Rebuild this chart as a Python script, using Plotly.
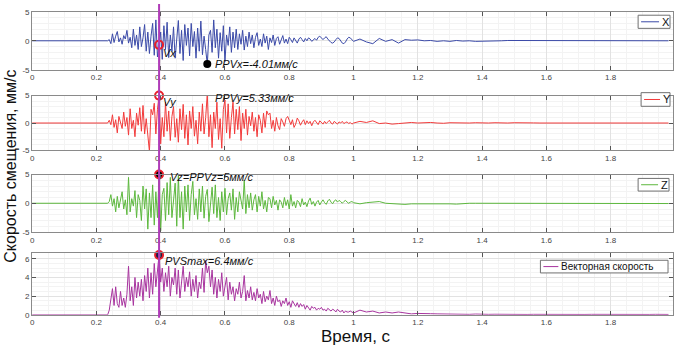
import numpy as np
import plotly.graph_objects as go

# ---------------- data ----------------
T_START = 0.24      # first sample of the active part, s
T_STEP = 0.005      # sampling step of the active part, s
TAIL_START = 1.02
TAIL_STEP = 0.02

vx = [0.2,-0.5,1.2,-0.3,0.8,1.6,-0.2,0.5,-0.6,0.9,
      0.3,1.8,-0.4,0.6,-1.2,2.0,-0.8,1.0,-1.5,2.4,
      -1.0,0.5,2.8,-1.8,1.5,-2.2,0.8,3.0,-2.5,3.6,
      -2.8,-0.7,1.5,-3.2,2.6,-1.5,3.2,-2.9,1.0,-1.8,
      2.4,-3.0,0.6,3.5,-2.2,1.8,-3.4,2.8,-0.8,2.2,
      -2.6,3.0,-1.0,1.6,-3.0,2.2,-1.8,3.4,-2.4,0.8,
      -1.5,-4.01,1.0,1.8,-2.0,3.6,-1.2,2.0,-3.0,1.4,
      -1.8,2.6,-3.6,1.0,-0.8,2.4,-2.0,1.5,-1.2,2.0,
      -1.5,1.2,-0.6,1.8,-1.6,0.8,-1.0,1.5,-0.5,1.0,
      -1.2,0.6,1.4,-0.8,0.3,-1.0,1.2,-0.4,0.8,-1.5,
      0.5,-0.3,1.0,-0.8,0.4,0.7,-0.6,0.2,0.9,-0.4,
      0.3,-0.5,0.6,0.2,-0.3,0.5,0.1,-0.4,0.3,0.6,
      0.2,-0.2,0.4,0.0,0.5,0.3,-0.1,0.2,0.4,0.1,
      0.6,0.8,0.4,0.2,0.5,0.7,0.3,0.0,-0.3,-0.4,
      -0.2,0.2,0.5,0.4,0.0,-0.4,-0.5,-0.2,0.3,0.6,
      0.5,0.2,-0.1]
vx_tail = [0.3,-0.2,-0.5,0.4,-0.1,0.2,-0.4,0.2,0.1,0.15,
           0.0,0.05,-0.1,0.0,-0.1,0.05,-0.05,0.0,-0.1,-0.1,
           0.0,-0.05,0.0,0.05,0.05,0.05,0.0,0.02,0.0,-0.02,
           0.0,0.02,0.0,0.0,-0.02,0.0,0.0,-0.02,-0.02,0.0,
           0.0,0.0,0.0,0.0,0.0,0.0,0.0,0.0,0.0]

vy = [0.5,-0.3,1.5,-0.8,0.6,-1.8,1.2,0.3,-1.0,2.0,
      -0.6,1.0,-2.2,2.6,-1.0,0.5,-2.5,1.8,-0.4,2.8,
      -1.5,3.2,-2.0,0.8,-3.0,-5.2,2.5,1.5,3.6,-2.0,
      2.5,5.0,-3.8,1.0,-2.5,3.8,-1.5,2.2,-3.2,1.2,
      3.0,-2.6,0.8,-3.5,2.6,-1.2,3.4,-2.8,1.5,-4.0,
      2.2,-1.0,3.0,-2.4,0.5,-3.8,2.0,-1.5,3.5,-2.0,
      1.0,5.33,-2.5,1.5,-4.5,2.0,-1.0,3.8,-3.0,0.8,
      -4.6,2.5,4.2,-1.8,3.5,-2.8,1.0,3.8,-2.0,2.5,
      -1.2,3.0,-3.2,1.8,-1.0,2.5,-2.2,1.2,-0.5,2.0,
      -1.5,1.0,-2.5,1.5,0.5,-1.8,1.8,-0.8,2.2,1.5,
      1.8,-1.0,0.5,-1.5,1.0,-0.5,-1.2,0.8,0.2,-0.6,
      0.8,1.2,0.5,-0.3,0.6,-0.8,-0.2,0.9,0.4,-0.4,
      0.2,0.6,-0.3,0.4,-0.1,0.3,-0.5,0.2,0.5,0.0,
      -0.3,0.4,0.1,-0.2,0.3,-0.1,0.2,0.5,0.0,-0.2,
      0.3,0.1,-0.2,0.2,0.0,0.3,-0.1,0.1,0.2,-0.1,
      0.1,-0.2,0.0]
vy_tail = [0.3,0.1,0.4,-0.1,0.0,-0.2,-0.1,0.0,0.1,0.0,
           0.05,0.1,0.0,-0.05,0.05,0.0,0.05,0.0,0.05,0.0,
           0.0,0.05,0.0,0.0,0.05,0.0,0.0,0.02,0.0,0.0,
           0.0,0.02,0.0,0.0,0.0,0.0,0.05,0.0,0.0,0.0,
           0.0,0.0,-0.05,0.0,0.0,0.0,0.0,0.0,0.0]

vz = [0.3,1.5,-0.5,0.8,-1.5,1.2,-0.8,0.5,2.0,-1.0,
      0.6,-2.0,4.5,-1.5,0.8,-0.5,2.2,-2.5,1.5,0.5,
      -3.0,3.0,-1.0,2.5,-4.5,1.8,-2.5,3.2,-3.8,2.0,
      -2.5,5.0,-4.8,1.5,2.6,-3.0,3.6,-2.0,4.5,-2.5,
      1.0,3.5,-4.0,4.8,-2.5,2.0,-4.5,3.0,-1.5,3.2,
      -3.0,1.5,3.8,-2.0,0.8,-2.8,2.5,-1.5,3.0,-2.6,
      1.2,2.4,-3.2,0.5,2.8,-1.8,3.2,-2.5,1.0,-3.0,
      2.0,-1.5,2.6,-2.0,0.8,1.8,-1.2,2.5,-2.8,1.0,
      -1.5,2.0,0.5,-1.0,4.0,-1.8,1.5,-0.8,1.8,-1.2,
      0.6,1.5,-1.5,1.2,-0.5,2.0,-1.0,0.5,-1.5,1.0,
      0.8,-0.8,1.2,-0.3,0.5,-1.2,0.6,0.2,-0.8,1.0,
      -0.4,0.6,-1.0,1.5,-0.5,0.3,-0.8,0.5,0.2,-0.6,
      0.8,-0.3,0.2,-0.6,0.4,0.9,-0.2,0.3,-0.5,0.2,
      0.5,-0.3,0.2,0.6,0.1,-0.2,0.4,0.7,0.2,-0.1,
      0.4,0.6,0.2,0.5,0.3,0.0,0.3,0.5,0.2,0.0,
      0.2,0.3,0.1]
vz_tail = [-0.1,0.1,0.2,0.3,0.0,-0.1,-0.1,-0.2,-0.1,-0.1,
           -0.05,0.0,-0.05,-0.05,-0.1,-0.15,-0.05,0.0,0.0,0.0,
           0.05,0.0,0.0,0.0,-0.05,0.0,0.0,0.0,0.05,0.05,
           0.05,0.05,0.05,0.05,0.05,0.0,0.05,0.05,0.05,0.0,
           0.0,0.05,0.05,0.0,0.0,0.0,0.0,0.0,-0.05]

vs = [0.5,1.5,2.8,1.0,3.0,1.2,0.8,2.5,1.0,1.8,
      0.8,2.2,5.2,1.5,3.0,1.0,4.0,1.8,3.5,2.0,
      3.8,1.5,4.2,2.5,5.0,1.8,4.5,2.2,5.5,3.0,
      4.5,6.4,3.5,5.0,2.5,4.5,3.0,5.2,2.0,4.0,
      3.2,5.0,2.2,4.8,1.8,3.5,5.2,2.5,4.0,3.0,
      4.6,2.0,3.8,2.5,4.2,1.8,3.5,2.8,5.0,2.4,
      5.8,4.5,5.2,3.0,4.8,2.2,4.0,1.8,3.8,2.5,
      4.5,2.0,3.2,4.0,1.6,3.5,2.2,3.0,1.5,2.8,
      2.2,3.5,1.8,2.5,4.2,1.5,2.6,1.8,3.0,1.6,
      2.4,1.5,2.8,1.8,2.2,1.2,2.5,1.4,2.0,1.6,
      2.6,1.2,1.8,1.0,2.0,1.4,1.6,0.9,1.5,1.2,
      1.8,1.0,1.4,0.8,1.5,1.1,0.9,1.3,0.8,1.2,
      0.9,1.1,0.6,1.0,0.8,0.5,0.9,0.7,0.8,0.5,
      0.7,0.6,0.8,0.5,0.6,0.4,0.7,0.5,0.4,0.6,
      0.5,0.3,0.6,0.4,0.3,0.5,0.2,0.4,0.3,0.3,
      0.4,0.3,0.2]
vs_tail = [0.5,0.3,0.4,0.2,0.3,0.2,0.3,0.2,0.1,0.15,
           0.1,0.12,0.1,0.08,0.12,0.1,0.06,0.05,0.08,0.1,
           0.05,0.06,0.04,0.05,0.06,0.05,0.04,0.05,0.04,0.03,
           0.04,0.05,0.03,0.04,0.05,0.04,0.05,0.04,0.03,0.04,
           0.05,0.04,0.05,0.04,0.03,0.04,0.05,0.04,0.04]

series_names = ["X", "Y", "Z", "Векторная скорость"]
series_colors = ["#3b4aa8", "#f23b3b", "#5db83e", "#a8359f"]

# reference points
t_mark = 0.395
vx_mark, vy_mark, vz_mark, vs_mark = -0.7, 5.0, 5.0, 6.4
t_ppvx, ppvx = 0.545, -4.01
t_ppvy, ppvy = 0.545, 5.33

x_ticks = [0, 0.2, 0.4, 0.6, 0.8, 1.0, 1.2, 1.4, 1.6, 1.8]
x_ticklabels = ["0", "0.2", "0.4", "0.6", "0.8", "1", "1.2", "1.4", "1.6", "1.8"]
y_ticks = [-5, 0, 5]
y_ticklabels = ["-5", "0", "5"]
y4_ticks = [0, 2, 4, 6]
y4_ticklabels = ["0", "2", "4", "6"]

# ---------------- build ----------------
def build_t(n_main, n_tail):
    t_main = np.round(T_START + T_STEP * np.arange(n_main), 4)
    t_tail = np.round(TAIL_START + TAIL_STEP * np.arange(n_tail), 4)
    return np.concatenate([[0.0, 0.235], t_main, t_tail])

def build_v(main, tail):
    return np.concatenate([[0.0, 0.0], main, tail])

W, H = 678, 351
def py(p):  # pixel from top -> paper
    return 1 - p / H
def px(p):
    return p / W

x_dom = [px(30.2), px(673)]
y_doms = [[py(67.5), py(8)], [py(150.3), py(94)], [py(234), py(175)], [py(319), py(255.7)]]

fig = go.Figure()
data = [(vx, vx_tail), (vy, vy_tail), (vz, vz_tail), (vs, vs_tail)]
for i, (m, tl) in enumerate(data):
    suffix = "" if i == 0 else str(i + 1)
    fig.add_trace(go.Scatter(
        x=build_t(len(m), len(tl)), y=build_v(m, tl), mode="lines",
        line=dict(color=series_colors[i], width=1), name=series_names[i],
        xaxis="x" + suffix, yaxis="y" + suffix, showlegend=False))

font_family = "Arial, Liberation Sans, sans-serif"

def marker_trace(x, y, ax, fill, size=8, edge="#e8202a"):
    return go.Scatter(x=[x], y=[y], mode="markers", xaxis="x" + ax, yaxis="y" + ax,
                      marker=dict(size=size, color=fill, line=dict(color=edge, width=2)),
                      cliponaxis=False, showlegend=False, hoverinfo="skip")

fig.add_trace(marker_trace(t_mark, vx_mark, "", "rgba(255,255,255,0)"))
fig.add_trace(marker_trace(t_ppvx, ppvx, "", "black", size=6, edge="black"))
fig.add_trace(marker_trace(t_mark, vy_mark, "2", "rgba(255,255,255,0)"))
fig.add_trace(marker_trace(t_ppvy, ppvy, "2", "black", size=6, edge="black"))
fig.add_trace(marker_trace(t_mark, vz_mark, "3", "black"))
fig.add_trace(marker_trace(t_mark, vs_mark, "4", "#1a1a4a"))

axis_common = dict(showline=True, linecolor="#8a8a8a", linewidth=1, mirror="ticks",
                   ticks="inside", ticklen=4, tickcolor="#555", showgrid=True,
                   gridcolor="#e2e2e2", zeroline=False,
                   tickfont=dict(size=8, color="#444", family=font_family))

layout = dict(width=W, height=H, margin=dict(l=0, r=0, t=0, b=0),
              paper_bgcolor="white", plot_bgcolor="white",
              font=dict(family=font_family), showlegend=False)
for i in range(4):
    suffix = "" if i == 0 else str(i + 1)
    anchor = "y" + suffix
    layout["xaxis" + suffix] = dict(axis_common, domain=x_dom, anchor=anchor,
                                    range=[0, 1.994], tickvals=x_ticks, ticktext=x_ticklabels,
                                    minor=dict(dtick=0.05, showgrid=True, gridcolor="#f3f3f3"))
    if i < 3:
        layout["yaxis" + suffix] = dict(axis_common, domain=y_doms[i], anchor="x" + suffix,
                                        range=[-5, 5], tickvals=y_ticks, ticktext=y_ticklabels,
                                        minor=dict(dtick=1, showgrid=True, gridcolor="#f3f3f3"))
    else:
        layout["yaxis" + suffix] = dict(axis_common, domain=y_doms[i], anchor="x" + suffix,
                                        range=[0, 6.6], tickvals=y4_ticks, ticktext=y4_ticklabels,
                                        minor=dict(dtick=0.5, showgrid=True, gridcolor="#f3f3f3"))
fig.update_layout(**layout)

# compact MATLAB-style legend boxes (box, line sample, label) per panel
legend_boxes = [  # (left, top, right, bottom, line_x0, line_x1) in pixels
    (638, 11.5, 670, 25, 641, 659),
    (641, 91, 670, 105, 644, 660),
    (638, 179, 669, 192, 641, 658),
    (540, 263, 668, 276, 543, 558),
]
for i, (l, t, r, b, lx0, lx1) in enumerate(legend_boxes):
    fig.add_shape(type="rect", xref="paper", yref="paper", x0=px(l), x1=px(r),
                  y0=py(b), y1=py(t), line=dict(color="#707070", width=1), fillcolor="white")
    ym = (t + b) / 2
    fig.add_shape(type="line", xref="paper", yref="paper", x0=px(lx0), x1=px(lx1),
                  y0=py(ym), y1=py(ym), line=dict(color=series_colors[i], width=1))
    fig.add_annotation(x=px(lx1 + 1), y=py(ym), xref="paper", yref="paper", showarrow=False,
                       xanchor="left", yanchor="middle", text=series_names[i],
                       font=dict(size=11 if i < 3 else 10, color="#111", family=font_family))

ann_font = dict(size=11, color="#111", family=font_family)
annotations = [
    dict(x=0.402, y=-2.1, xref="x", yref="y", text="<i>Vx</i>"),
    dict(x=0.562, y=-4.05, xref="x", yref="y", text="<i>PPVx=-4.01мм/с</i>"),
    dict(x=0.402, y=3.9, xref="x2", yref="y2", text="<i>Vy</i>"),
    dict(x=0.562, y=4.6, xref="x2", yref="y2", text="<i>PPVy=5.33мм/с</i>"),
    dict(x=0.424, y=4.5, xref="x3", yref="y3", text="<i>Vz=PPVz=5мм/с</i>"),
    dict(x=0.408, y=5.8, xref="x4", yref="y4", text="<i>PVSmax=6.4мм/с</i>"),
]
for a in annotations:
    fig.add_annotation(showarrow=False, font=ann_font, xanchor="left", yanchor="middle", **a)

fig.add_annotation(x=px(9), y=py(166), xref="paper", yref="paper", showarrow=False,
                   xanchor="center", yanchor="middle",
                   text="Скорость смещения, мм/с", textangle=-90,
                   font=dict(size=16, color="#111", family=font_family))
fig.add_annotation(x=px(355), y=py(341), xref="paper", yref="paper", showarrow=False,
                   xanchor="center", yanchor="middle",
                   text="Время, с", font=dict(size=17, color="#111", family=font_family))

fig.add_shape(type="line", xref="x", yref="paper", x0=t_mark, x1=t_mark,
              y0=py(322), y1=1, line=dict(color="#b03cb8", width=2))

fig.write_html("out.html")
